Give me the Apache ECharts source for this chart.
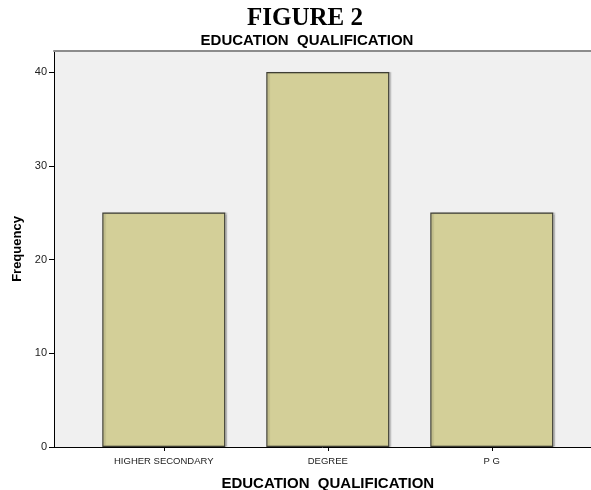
<!DOCTYPE html>
<html>
<head>
<meta charset="utf-8">
<script src="https://cdn.jsdelivr.net/npm/echarts@6/dist/echarts.min.js"></script>
<style>
  html, body { margin: 0; padding: 0; background: #ffffff; }
  #chart { width: 591px; height: 490px; }
</style>
</head>
<body>
<div id="chart"></div>
<script>
// Education qualification frequencies
const categories = ['HIGHER SECONDARY', 'DEGREE', 'P G'];
const frequency = [25, 40, 25];
const yTicks = [0, 10, 20, 30, 40];

const Y_MAX = 42.24;
const sans = '"Liberation Sans", Arial, sans-serif';

const chart = echarts.init(document.getElementById('chart'), null, { renderer: 'canvas' });

chart.setOption({
  animation: false,
  backgroundColor: '#ffffff',
  title: [
    {
      text: 'FIGURE 2',
      left: 300, top: 1, textAlign: 'center',
      textStyle: { fontFamily: '"Liberation Serif", "Times New Roman", serif', fontWeight: 'bold', fontSize: 25, color: '#000' }
    },
    {
      text: 'EDUCATION  QUALIFICATION',
      left: 302, top: 28, textAlign: 'center',
      textStyle: { fontFamily: sans, fontWeight: 'bold', fontSize: 15, color: '#000' }
    }
  ],
  grid: [
    // frame with grey plotting background and the frequency scale
    { left: 54, right: 0, top: 51, bottom: 43, show: true, backgroundColor: '#f0f0f0', borderWidth: 0,
      outerBoundsMode: 'none', containLabel: false },
    // band area holding the three categories
    { left: 81.8, width: 492, top: 51, bottom: 43, outerBoundsMode: 'none', containLabel: false }
  ],
  xAxis: [
    {
      gridIndex: 0, type: 'value', min: 0, max: 1, position: 'bottom',
      axisLine: { show: true, lineStyle: { color: '#000', width: 1 } },
      axisTick: { show: false }, axisLabel: { show: false }, splitLine: { show: false }
    },
    {
      gridIndex: 0, type: 'value', min: 0, max: 1, position: 'top',
      axisLine: { show: true, lineStyle: { color: '#8c8c8c', width: 2 } },
      axisTick: { show: false }, axisLabel: { show: false }, splitLine: { show: false }
    },
    {
      gridIndex: 1, type: 'category', data: categories, position: 'bottom',
      axisLine: { show: false },
      axisTick: { show: true, alignWithLabel: true, length: 4, lineStyle: { color: '#000' } },
      axisLabel: { fontFamily: sans, fontSize: 9.5, color: '#222', margin: 9 },
      name: 'EDUCATION  QUALIFICATION',
      nameLocation: 'middle', nameGap: 29,
      nameTextStyle: { fontFamily: sans, fontWeight: 'bold', fontSize: 15, color: '#000' }
    }
  ],
  yAxis: [
    {
      gridIndex: 0, type: 'value', min: 0, max: Y_MAX, interval: 10,
      axisLine: { show: true, lineStyle: { color: '#000', width: 1 } },
      axisTick: { show: true, length: 5, lineStyle: { color: '#000' },
        customValues: yTicks },
      axisLabel: { fontFamily: sans, fontSize: 11, color: '#222', margin: 7,
        customValues: yTicks },
      splitLine: { show: false },
      name: 'Frequency', nameLocation: 'middle', nameGap: 29, nameRotate: 90,
      nameTextStyle: { fontFamily: sans, fontWeight: 'bold', fontSize: 13, color: '#000' }
    },
    {
      gridIndex: 1, type: 'value', min: 0, max: Y_MAX, show: false
    }
  ],
  series: [
    {
      type: 'bar',
      xAxisIndex: 2, yAxisIndex: 1,
      data: frequency,
      barWidth: '75%',
      itemStyle: {
        color: '#d3cf98',
        borderColor: '#3e3e34',
        borderWidth: 1.2,
        shadowColor: 'rgba(0,0,0,0.15)',
        shadowOffsetX: 2, shadowOffsetY: 0, shadowBlur: 1
      }
    }
  ]
});
</script>
</body>
</html>
